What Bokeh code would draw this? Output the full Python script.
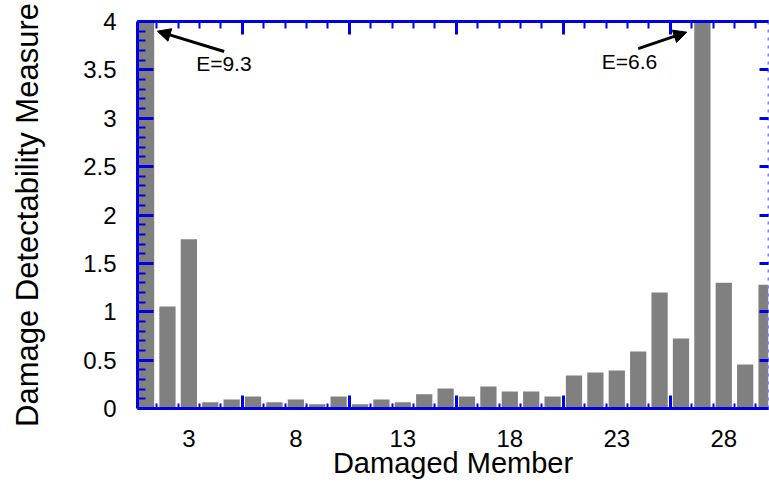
from bokeh.plotting import figure
from bokeh.models import (LinearAxis, FixedTicker, CustomJSTickFormatter, Range1d,
                          Arrow, NormalHead, Label, ColumnDataSource)
from bokeh.embed import file_html
from bokeh.resources import INLINE

# ---- data ----
members = list(range(1, 31))
detectability = [9.3, 1.055, 1.75, 0.065, 0.093, 0.124, 0.065, 0.093, 0.045, 0.124,
                 0.045, 0.093, 0.065, 0.148, 0.207, 0.124, 0.227, 0.176, 0.176, 0.124,
                 0.341, 0.372, 0.393, 0.589, 1.20, 0.724, 6.6, 1.30, 0.455, 1.28]
x_tick_positions = [3, 8, 13, 18, 23, 28]
x_tick_labels = ["3", "8", "13", "18", "23", "28"]
x_major_marks = [5.5, 10.5, 15.5, 20.5, 25.5]
x_minor_marks = [1.5, 2.5, 3.5, 4.5, 6.5, 7.5, 8.5, 9.5, 11.5, 12.5, 13.5, 14.5,
                 16.5, 17.5, 18.5, 19.5, 21.5, 22.5, 23.5, 24.5, 26.5, 27.5, 28.5, 29.5]
y_ticks = [0, 0.5, 1, 1.5, 2, 2.5, 3, 3.5, 4]
y_tick_labels = ["0", "0.5", "1", "1.5", "2", "2.5", "3", "3.5", "4"]
y_minor = [0.1, 0.2, 0.3, 0.4, 0.6, 0.7, 0.8, 0.9, 1.1, 1.2, 1.3, 1.4, 1.6, 1.7, 1.8, 1.9,
           2.1, 2.2, 2.3, 2.4, 2.6, 2.7, 2.8, 2.9, 3.1, 3.2, 3.3, 3.4, 3.6, 3.7, 3.8, 3.9]
annotations = [("E=9.3", 1), ("E=6.6", 27)]

BLUE = "#0000e0"
FONT = "Liberation Sans"

src = ColumnDataSource(dict(member=members, value=detectability))

p = figure(width=769, height=485, output_backend="svg", toolbar_location=None,
           x_range=Range1d(0.6, 30.09), y_range=Range1d(0, 4),
           min_border_left=137, min_border_top=21, min_border_right=1,
           min_border_bottom=77, outline_line_color=None,
           background_fill_color="white", border_fill_color="white")
p.grid.visible = False

p.vbar(x="member", top="value", width=0.76, source=src,
       fill_color="#808080", line_color=None)

def labeler(pos, labels):
    return CustomJSTickFormatter(args=dict(pos=pos, labels=labels), code="""
        const i = pos.findIndex(v => Math.abs(v - tick) < 1e-9);
        return i >= 0 ? labels[i] : '';
    """)

empty = CustomJSTickFormatter(code="return '';")

def tick_only(ax, major_in, minor_in, line_color=BLUE, dash="solid", line_alpha=1.0):
    ax.formatter = empty
    ax.major_label_text_font_size = "0px"
    ax.major_label_standoff = 0
    ax.axis_line_color = line_color
    ax.axis_line_width = 3
    ax.axis_line_dash = dash
    ax.axis_line_alpha = line_alpha
    ax.major_tick_line_color = BLUE
    ax.major_tick_line_width = 3
    ax.major_tick_in = major_in
    ax.major_tick_out = 0
    ax.minor_tick_line_color = BLUE
    ax.minor_tick_line_width = 2
    ax.minor_tick_in = minor_in
    ax.minor_tick_out = 0

# bottom tick axis (closest to frame)
xb = p.below[0]
xb.ticker = FixedTicker(ticks=x_major_marks, minor_ticks=x_minor_marks)
tick_only(xb, 13, 5)

# bottom label axis
xl = LinearAxis(ticker=FixedTicker(ticks=x_tick_positions, minor_ticks=[]),
                formatter=labeler(x_tick_positions, x_tick_labels))
xl.axis_line_color = None
xl.major_tick_line_color = None
xl.minor_tick_line_color = None
xl.major_tick_in = 0
xl.major_tick_out = 0
xl.major_label_standoff = 21
xl.major_label_text_font = FONT
xl.major_label_text_font_size = "24px"
xl.major_label_text_color = "black"
xl.axis_label = "Damaged Member"
xl.axis_label_text_font = FONT
xl.axis_label_text_font_size = "29px"
xl.axis_label_text_font_style = "normal"
xl.axis_label_text_color = "black"
xl.axis_label_standoff = -3
p.add_layout(xl, "below")

# top tick axis
xt = LinearAxis(ticker=FixedTicker(ticks=x_major_marks, minor_ticks=x_minor_marks))
tick_only(xt, 13, 7)
p.add_layout(xt, "above")

# left axis
yl = p.left[0]
yl.ticker = FixedTicker(ticks=y_ticks, minor_ticks=y_minor)
yl.formatter = labeler(y_ticks, y_tick_labels)
yl.axis_line_color = BLUE
yl.axis_line_width = 3
yl.major_tick_line_color = BLUE
yl.major_tick_line_width = 3
yl.major_tick_in = 16
yl.major_tick_out = 0
yl.minor_tick_line_color = BLUE
yl.minor_tick_line_width = 2
yl.minor_tick_in = 8
yl.minor_tick_out = 0
yl.major_label_standoff = 21
yl.major_label_text_font = FONT
yl.major_label_text_font_size = "24px"
yl.major_label_text_color = "black"
yl.axis_label = "Damage Detectability Measure"
yl.axis_label_text_font = FONT
yl.axis_label_text_font_size = "31px"
yl.axis_label_text_font_style = "normal"
yl.axis_label_text_color = "black"
yl.axis_label_standoff = 35

# right axis (dashed light line, inward ticks)
yr = LinearAxis(ticker=FixedTicker(ticks=y_ticks, minor_ticks=[]))
tick_only(yr, 9, 0, line_color="#8080ff", dash="3 5")
yr.axis_line_width = 2
p.add_layout(yr, "right")

# annotations for clipped bars
arrow_specs = [
    dict(x_start=4.65, y_start=3.69, x_end=1.53, y_end=3.90, tx=3.34, ty=3.57),
    dict(x_start=24.0, y_start=3.72, x_end=26.27, y_end=3.89, tx=22.30, ty=3.59),
]
for (txt, _), a in zip(annotations, arrow_specs):
    p.add_layout(Arrow(end=NormalHead(size=13, fill_color="black", line_color="black"),
                       x_start=a["x_start"], y_start=a["y_start"],
                       x_end=a["x_end"], y_end=a["y_end"],
                       line_color="black", line_width=3))
    p.add_layout(Label(x=a["tx"], y=a["ty"], text=txt, text_font=FONT,
                       text_font_size="21px", text_color="black",
                       text_baseline="alphabetic"))

open("out.html", "w").write(file_html(p, INLINE))
